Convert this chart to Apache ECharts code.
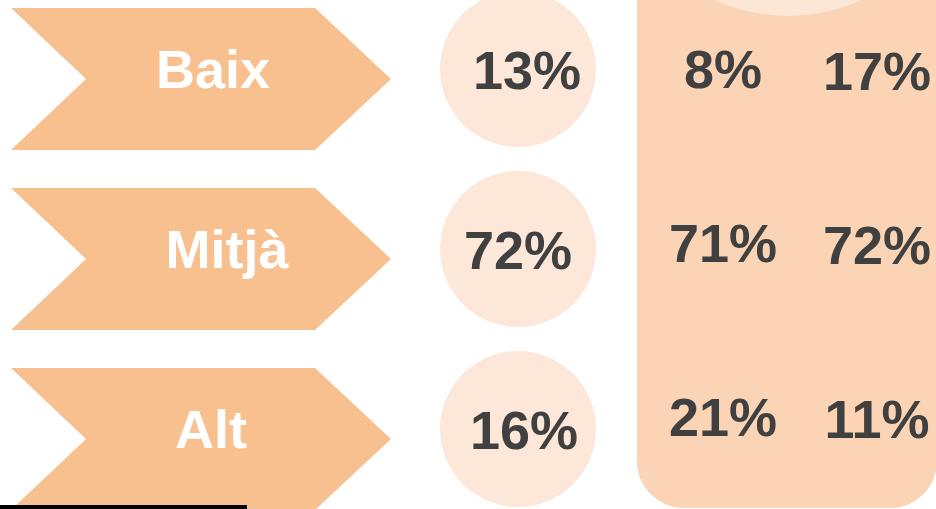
<!DOCTYPE html>
<html>
<head>
<meta charset="utf-8">
<script src="https://cdn.jsdelivr.net/npm/echarts@6/dist/echarts.min.js"></script>
<style>
  html, body { margin: 0; padding: 0; background: #fff; }
  #chart { width: 936px; height: 509px; }
</style>
</head>
<body>
<div id="chart"></div>
<script>
const levels = ['Baix', 'Mitjà', 'Alt']
const total = [13, 72, 16]
const groupA = [8, 71, 21]
const groupB = [17, 72, 11]

// column positions along the hidden x axis (pixels)
const colLevel = 201
const colTotal = 518
const colA = 723
const colB = 877
// small horizontal nudges of the texts, as in the original slide
const levelShift = [12, 26, 10]
const totalShift = [9, 0, 6]

const font = '"Liberation Sans", Arial, sans-serif'
const chevron = 'path://M0,0 L304,0 L380,71 L304,142 L0,142 L75,71 Z'

const chart = echarts.init(document.getElementById('chart'))

const hiddenX = (i) => ({ type: 'value', gridIndex: i, min: 0, max: 936, show: false })
const hiddenY = (i) => ({ type: 'category', gridIndex: i, data: levels, inverse: true, show: false })

const pctLabel = (dx, dy) => ({
  show: true,
  position: 'inside',
  formatter: (p) => p.value[2] + '%',
  color: '#404040',
  fontFamily: font,
  fontWeight: 'bold',
  fontSize: 54,
  offset: [dx, dy]
})

const option = {
  animation: false,
  grid: [
    { left: 0, right: 0, top: -11, bottom: -20, outerBoundsMode: 'none', containLabel: false },
    { left: 0, right: 0, top: -17, bottom: 4, outerBoundsMode: 'none', containLabel: false }
  ],
  xAxis: [hiddenX(0), hiddenX(1)],
  yAxis: [hiddenY(0), hiddenY(1)],
  graphic: [
    {
      type: 'rect', z: -10,
      shape: { x: 637, y: -60, width: 300, height: 568, r: 47 },
      style: { fill: '#FAD4B4' }
    },
    {
      type: 'circle', z: -9,
      shape: { cx: 788, cy: -161, r: 177 },
      style: { fill: '#FCE6D6' }
    },
    {
      type: 'rect', z: 10,
      shape: { x: 0, y: 505, width: 247, height: 4 },
      style: { fill: '#000' }
    }
  ],
  series: [
    {
      name: 'nivell',
      type: 'scatter',
      xAxisIndex: 0, yAxisIndex: 0,
      symbol: chevron,
      symbolSize: [380, 142],
      itemStyle: { color: '#F8C08F', opacity: 1 },
      label: {
        show: true,
        position: 'inside',
        formatter: (p) => p.value[1],
        color: '#fff',
        fontFamily: font,
        fontWeight: 'bold',
        fontSize: 54
      },
      data: levels.map((l, i) => ({
        value: [colLevel, l],
        label: { offset: [levelShift[i], -6] }
      }))
    },
    {
      name: 'total',
      type: 'scatter',
      xAxisIndex: 0, yAxisIndex: 0,
      symbol: 'circle',
      symbolSize: 156,
      symbolOffset: [0, -10],
      itemStyle: { color: '#FCE7D8', opacity: 1 },
      label: pctLabel(0, 0),
      data: total.map((v, i) => ({
        value: [colTotal, levels[i], v],
        label: { offset: [totalShift[i], 5] }
      }))
    },
    {
      name: 'A',
      type: 'scatter',
      xAxisIndex: 1, yAxisIndex: 1,
      symbolSize: 1,
      itemStyle: { color: '#FAD4B4', opacity: 1 },
      label: pctLabel(0, 3),
      data: groupA.map((v, i) => [colA, levels[i], v])
    },
    {
      name: 'B',
      type: 'scatter',
      xAxisIndex: 1, yAxisIndex: 1,
      symbolSize: 1,
      itemStyle: { color: '#FAD4B4', opacity: 1 },
      label: pctLabel(0, 5),
      data: groupB.map((v, i) => [colB, levels[i], v])
    }
  ]
}

chart.setOption(option)
</script>
</body>
</html>
